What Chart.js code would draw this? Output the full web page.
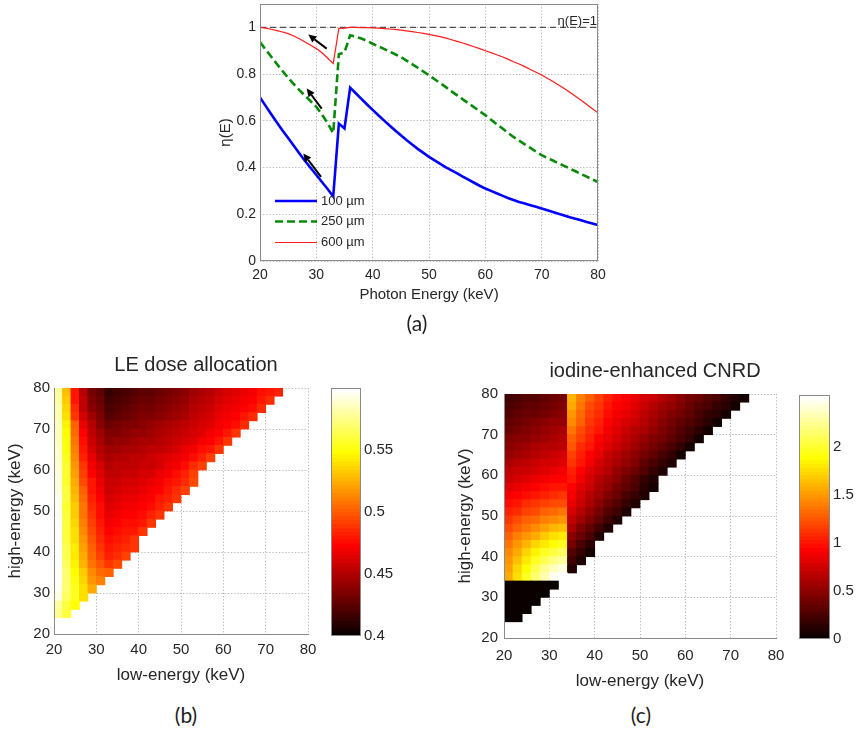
<!DOCTYPE html>
<html>
<head>
<meta charset="utf-8">
<script src="https://cdn.jsdelivr.net/npm/chart.js@4.4.1/dist/chart.umd.min.js"></script>
<style>
html, body { margin: 0; padding: 0; background: #fff; }
#fig { position: relative; width: 859px; height: 733px; overflow: hidden; background: #fff; }
#fig canvas { position: absolute; }
.cap { position: absolute; font-family: Lato, 'Open Sans', sans-serif; font-size: 21px; color: #1e1e1e;
       transform: translate(-50%, -50%); line-height: 1; white-space: nowrap; }
</style>
</head>
<body>
<div id="fig">
  <canvas id="eff" width="420" height="322" style="left:200px;top:-12px"></canvas>
  <canvas id="dose" width="392" height="345" style="left:0px;top:345px"></canvas>
  <canvas id="doseBar" width="80" height="275" style="left:325px;top:375px"></canvas>
  <canvas id="cnrd" width="400" height="345" style="left:455px;top:350px"></canvas>
  <canvas id="cnrdBar" width="69" height="275" style="left:790px;top:380px"></canvas>
  <div class="cap" style="left:417px;top:322px">(a)</div>
  <div class="cap" style="left:186px;top:714px">(b)</div>
  <div class="cap" style="left:641px;top:714px">(c)</div>
</div>
<script>
// ---------------- (a) detection efficiency vs photon energy ----------------
const energyKeV = [20,21,22,23,24,25,26,27,28,29,30,31,32,33,34,35,36,37,38,39,40,
  41,42,43,44,45,46,47,48,49,50,51,52,53,54,55,56,57,58,59,60,
  61,62,63,64,65,66,67,68,69,70,71,72,73,74,75,76,77,78,79,80];

const eta100um = [0.70,0.664,0.628,0.593,0.559,0.526,0.493,0.46,0.428,0.398,0.368,0.338,0.308,0.276,
  0.588,0.567,0.742,0.718,0.694,0.67,0.647,0.624,0.602,0.58,0.559,0.538,0.518,0.499,0.48,0.463,0.446,
  0.431,0.416,0.401,0.388,0.375,0.361,0.348,0.335,0.322,0.31,0.30,0.29,0.28,0.27,0.261,0.253,0.246,
  0.239,0.232,0.225,0.217,0.21,0.202,0.195,0.187,0.181,0.174,0.167,0.161,0.154];

const eta250um = [0.937,0.905,0.874,0.843,0.813,0.784,0.757,0.731,0.707,0.684,0.66,0.627,0.59,0.548,
  0.885,0.893,0.966,0.96,0.952,0.942,0.93,0.919,0.908,0.896,0.885,0.873,0.858,0.843,0.827,0.811,0.795,
  0.778,0.761,0.744,0.726,0.709,0.692,0.675,0.658,0.641,0.624,0.605,0.586,0.568,0.549,0.531,0.515,0.499,
  0.484,0.468,0.453,0.441,0.43,0.418,0.407,0.396,0.384,0.372,0.361,0.349,0.338];

const eta600um = [1.0,0.997,0.992,0.986,0.98,0.973,0.963,0.951,0.937,0.923,0.909,0.891,0.869,0.845,
  0.996,0.997,1.0,1.0,0.999,0.999,0.998,0.997,0.995,0.993,0.991,0.988,0.985,0.982,0.978,0.974,0.97,
  0.965,0.96,0.954,0.947,0.94,0.933,0.925,0.917,0.909,0.9,0.892,0.883,0.874,0.864,0.853,0.843,0.832,
  0.82,0.808,0.796,0.782,0.768,0.753,0.738,0.722,0.705,0.688,0.67,0.652,0.634];

const unityLevel = [1, 1];            // eta(E) = 1 reference, drawn across the energy range
const thicknessLabels = ['100 \u00b5m', '250 \u00b5m', '600 \u00b5m'];

// arrows pointing toward thicker-detector behaviour below the iodine K-edge (data units)
const arrowMarks = [
  { from: [31.84, 0.909], to: [28.57, 0.969] },
  { from: [30.95, 0.652], to: [28.29, 0.738] },
  { from: [30.83, 0.360], to: [27.69, 0.460] }
];

// ---------------- (b), (c) dual-energy maps on a 2 keV grid ----------------
const leCenters = [21,23,25,27,29,31,33,35,37,39,41,43,45,47,49,51,53,55,57,59,61,63,65,67,69,71,73];
const heCenters = [79,77,75,73,71,69,67,65,63,61,59,57,55,53,51,49,47,45,43,41,39,37,35,33,31,29,27,25];

// fraction of dose given to the low-energy image, one row per high-energy bin (top row first)
const leDoseFraction = [
  [.578,.53,.478,.45,.434,.426,.413,.418,.42,.423,.426,.428,.431,.434,.437,.44,.444,.448,.452,.457,.461,.464,.467,.471,.475,.479,.484],
  [.58,.532,.481,.453,.437,.429,.416,.421,.423,.426,.429,.431,.434,.437,.44,.443,.447,.451,.455,.46,.464,.467,.47,.474,.478,.486],
  [.581,.535,.485,.456,.44,.432,.42,.424,.426,.429,.432,.434,.437,.44,.443,.446,.45,.454,.458,.463,.467,.47,.473,.477,.487],
  [.583,.538,.49,.46,.444,.436,.424,.428,.43,.432,.435,.437,.44,.443,.446,.449,.453,.457,.461,.466,.47,.474,.478,.487],
  [.585,.545,.5,.468,.45,.44,.43,.433,.435,.437,.439,.441,.444,.447,.45,.453,.457,.461,.465,.469,.473,.477,.487],
  [.586,.548,.505,.472,.454,.444,.435,.437,.439,.441,.443,.445,.448,.451,.454,.457,.461,.465,.469,.473,.478,.488],
  [.587,.55,.508,.476,.458,.448,.44,.442,.443,.445,.447,.449,.452,.455,.458,.461,.465,.469,.474,.479,.489],
  [.588,.552,.512,.48,.462,.452,.444,.446,.447,.449,.451,.453,.456,.459,.462,.466,.47,.475,.48,.49],
  [.589,.554,.515,.484,.466,.456,.448,.45,.451,.453,.455,.457,.46,.463,.467,.471,.476,.484,.492],
  [.59,.556,.518,.488,.47,.46,.451,.453,.454,.455,.457,.459,.462,.466,.471,.477,.485,.493],
  [.591,.557,.521,.492,.474,.463,.454,.456,.457,.458,.46,.462,.466,.47,.476,.483,.492],
  [.592,.558,.524,.496,.478,.467,.457,.459,.46,.461,.463,.466,.47,.475,.48,.487,.494],
  [.593,.559,.527,.5,.481,.47,.459,.462,.463,.465,.467,.47,.474,.479,.485,.491],
  [.594,.56,.53,.503,.484,.473,.461,.465,.466,.468,.47,.474,.478,.484,.49],
  [.595,.558,.532,.506,.487,.475,.463,.467,.469,.471,.473,.477,.482,.489],
  [.596,.559,.534,.509,.49,.477,.466,.47,.472,.474,.477,.482,.489],
  [.597,.56,.536,.512,.493,.48,.469,.473,.475,.477,.481,.488],
  [.597,.561,.538,.515,.496,.483,.472,.476,.478,.481,.488],
  [.598,.562,.54,.518,.499,.486,.476,.479,.482,.488],
  [.599,.563,.541,.52,.502,.489,.48,.482,.485,.49],
  [.599,.565,.543,.523,.505,.492,.484,.486,.492],
  [.599,.567,.546,.527,.509,.497,.489,.495],
  [.599,.569,.549,.532,.514,.503,.5],
  [.598,.571,.552,.536,.518,.51],
  [.596,.571,.554,.538,.522],
  [.593,.568,.553,.538],
  [.58,.562,.548],
  [.575,.56]
];

// iodine-enhanced CNRD, same grid
const iodineCNRD = [
  [.2,.24,.28,.31,.35,.39,.42,1.6,1.42,1.27,1.16,1.07,.99,.93,.86,.79,.72,.64,.56,.49,.42,.36,.3,.24,.18,.11,.05],
  [.24,.28,.32,.35,.39,.43,.46,1.55,1.38,1.23,1.12,1.03,.95,.88,.81,.74,.67,.59,.52,.45,.38,.31,.25,.18,.12,.06],
  [.28,.32,.36,.39,.43,.47,.5,1.49,1.33,1.19,1.08,.99,.91,.84,.77,.69,.62,.55,.47,.4,.33,.26,.19,.13,.06],
  [.33,.37,.41,.44,.48,.52,.55,1.43,1.28,1.15,1.04,.95,.87,.79,.72,.64,.57,.5,.42,.35,.28,.2,.13,.06],
  [.38,.42,.46,.49,.53,.57,.6,1.37,1.23,1.11,1.0,.91,.83,.75,.67,.6,.52,.45,.37,.3,.22,.15,.07],
  [.44,.48,.51,.55,.58,.62,.65,1.3,1.17,1.05,.95,.86,.78,.7,.62,.55,.47,.4,.32,.24,.16,.07],
  [.49,.53,.57,.6,.64,.67,.7,1.24,1.11,1.0,.9,.81,.73,.65,.57,.49,.41,.33,.25,.16,.07],
  [.55,.59,.62,.66,.69,.73,.76,1.18,1.05,.94,.84,.75,.67,.58,.5,.42,.34,.25,.16,.07],
  [.61,.65,.69,.72,.76,.79,.82,1.12,1.0,.89,.79,.7,.61,.52,.44,.35,.26,.17,.08],
  [.68,.72,.75,.79,.82,.85,.88,1.06,.94,.83,.73,.64,.55,.46,.37,.28,.18,.08],
  [.75,.79,.83,.86,.89,.93,.95,1.0,.88,.77,.67,.57,.48,.39,.29,.19,.09],
  [.82,.86,.9,.94,.97,1.0,1.03,.95,.83,.72,.62,.52,.43,.34,.25,.15,.06],
  [.9,.95,.99,1.03,1.06,1.09,1.12,.9,.78,.67,.57,.47,.37,.27,.17,.08],
  [.97,1.03,1.08,1.12,1.16,1.2,1.23,.85,.72,.61,.5,.39,.29,.19,.08],
  [1.04,1.11,1.17,1.23,1.28,1.33,1.36,.78,.65,.53,.42,.31,.2,.09],
  [1.12,1.2,1.27,1.34,1.4,1.46,1.5,.7,.57,.45,.33,.21,.09],
  [1.2,1.29,1.38,1.46,1.53,1.6,1.65,.6,.47,.35,.23,.1],
  [1.28,1.39,1.49,1.58,1.67,1.75,1.8,.5,.37,.24,.11],
  [1.36,1.48,1.6,1.71,1.81,1.9,1.96,.4,.27,.12],
  [1.43,1.57,1.71,1.84,1.96,2.06,2.13,.3,.18,.06],
  [1.49,1.65,1.81,1.96,2.1,2.22,2.3,.2,.08],
  [1.54,1.72,1.9,2.07,2.23,2.37,2.45,.1],
  [1.58,1.77,1.97,2.16,2.33,2.47,2.54],
  [0,0,0,0,0,0],
  [0,0,0,0,0],
  [0,0,0,0],
  [0,0,0],
  [0,0]
];

const doseRange = [0.4, 0.5995];
const cnrdRange = [0, 2.54];

// ---------------- shared styling ----------------
const FONT = "'Liberation Sans', Arial, Helvetica, sans-serif";
const INK = '#262626';
const GRID = '#b4b4b4';
const AXIS = '#8a8a8a';
const DOT = [1.2, 2];
const fmt = v => String(Math.round(v * 1000) / 1000);

// 64-level "hot" colour map (black - red - yellow - white)
function hotIndex(i) {
  const n = Math.max(0, Math.min(63, i)) + 1;
  const r = Math.min(1, n / 24);
  const g = Math.min(1, Math.max(0, (n - 24) / 24));
  const b = Math.min(1, Math.max(0, (n - 48) / 16));
  return `rgb(${Math.round(r * 255)},${Math.round(g * 255)},${Math.round(b * 255)})`;
}
function hotColor(v, range) {
  return hotIndex(Math.floor((v - range[0]) / (range[1] - range[0]) * 64));
}

const framePlugin = {
  id: 'frame',
  afterDraw(chart) {
    const a = chart.chartArea, ctx = chart.ctx;
    ctx.save();
    ctx.strokeStyle = AXIS;
    ctx.lineWidth = 1;
    ctx.strokeRect(Math.round(a.left) + 0.5, Math.round(a.top) + 0.5,
                   Math.round(a.right - a.left) - 1, Math.round(a.bottom - a.top) - 1);
    ctx.restore();
  }
};

// ---------------- chart (a) ----------------
const toPoints = ys => energyKeV.map((e, i) => ({ x: e, y: ys[i] }));

const effDecorations = {
  id: 'effDecorations',
  afterDatasetsDraw(chart) {
    const { ctx, scales: { x, y } } = chart;
    ctx.save();
    ctx.strokeStyle = '#000';
    ctx.fillStyle = '#000';
    ctx.lineWidth = 2;
    arrowMarks.forEach(m => {
      const x0 = x.getPixelForValue(m.from[0]), y0 = y.getPixelForValue(m.from[1]);
      const x1 = x.getPixelForValue(m.to[0]), y1 = y.getPixelForValue(m.to[1]);
      const ang = Math.atan2(y1 - y0, x1 - x0), hl = 8, hw = 3.8;
      const bx = x1 - hl * Math.cos(ang), by = y1 - hl * Math.sin(ang);
      ctx.beginPath(); ctx.moveTo(x0, y0); ctx.lineTo(bx, by); ctx.stroke();
      ctx.beginPath();
      ctx.moveTo(x1, y1);
      ctx.lineTo(bx + hw * Math.sin(ang), by - hw * Math.cos(ang));
      ctx.lineTo(bx - hw * Math.sin(ang), by + hw * Math.cos(ang));
      ctx.closePath(); ctx.fill();
    });
    ctx.restore();
  },
  afterDraw(chart) {
    const { ctx, chartArea: a, scales: { y } } = chart;
    ctx.save();
    // reference-line label
    ctx.font = `13px ${FONT}`;
    ctx.fillStyle = INK;
    ctx.textAlign = 'right';
    ctx.textBaseline = 'middle';
    ctx.fillText('\u03b7(E)=1', a.right - 1, y.getPixelForValue(1) - 6);
    // legend in the lower-left corner of the axes
    const rows = [a.bottom - 60, a.bottom - 39.5, a.bottom - 18.5];
    ctx.textAlign = 'left';
    for (let i = 0; i < 3; i++) {
      const ds = chart.data.datasets[i];
      ctx.strokeStyle = ds.borderColor;
      ctx.lineWidth = ds.borderWidth;
      ctx.setLineDash(ds.borderDash || []);
      ctx.beginPath();
      ctx.moveTo(a.left + 15, rows[i]);
      ctx.lineTo(a.left + 57, rows[i]);
      ctx.stroke();
      ctx.setLineDash([]);
      ctx.fillStyle = INK;
      ctx.fillText(ds.label, a.left + 61, rows[i]);
    }
    ctx.restore();
  }
};

new Chart(document.getElementById('eff'), {
  type: 'line',
  data: {
    datasets: [
      { label: thicknessLabels[0], data: toPoints(eta100um), borderColor: '#0000ff', borderWidth: 2.6, order: 0 },
      { label: thicknessLabels[1], data: toPoints(eta250um), borderColor: '#088a08', borderWidth: 2.6, borderDash: [8, 4], order: 1 },
      { label: thicknessLabels[2], data: toPoints(eta600um), borderColor: '#ff1a1a', borderWidth: 1.2, order: 2 },
      { label: 'unity', data: [{ x: 20, y: unityLevel[0] }, { x: 80, y: unityLevel[1] }],
        borderColor: '#505050', borderWidth: 1.3, borderDash: [6, 4], order: 3 }
    ]
  },
  options: {
    responsive: false, animation: false, events: [],
    elements: { point: { radius: 0 }, line: { tension: 0, fill: false } },
    layout: { padding: 0 },
    plugins: { legend: { display: false }, tooltip: { enabled: false } },
    scales: {
      x: {
        type: 'linear', position: 'bottom', min: 20, max: 80,
        ticks: { stepSize: 10, color: INK, font: { family: FONT, size: 14 }, padding: 5.5, maxRotation: 0 },
        grid: { color: GRID, drawTicks: false },
        border: { display: false, dash: DOT },
        title: { display: true, text: 'Photon Energy (keV)', color: INK, font: { family: FONT, size: 15 }, padding: { top: 0, bottom: 6 } },
        afterFit: s => { s.height = 49; }
      },
      y: {
        type: 'linear', position: 'left', min: 0, max: 1.1,
        ticks: { stepSize: 0.2, includeBounds: false, color: INK, font: { family: FONT, size: 14 }, padding: 4, callback: fmt },
        grid: { color: GRID, drawTicks: false },
        border: { display: false, dash: DOT },
        title: { display: true, text: '\u03b7(E)', color: INK, font: { family: FONT, size: 15 }, padding: { top: 17, bottom: 0 } },
        afterFit: s => { s.width = 60; }
      },
      xTop: {
        type: 'linear', position: 'top', ticks: { display: false }, grid: { display: false, drawTicks: false }, border: { display: false },
        afterFit: s => { s.height = 16; }
      },
      yRight: {
        type: 'linear', position: 'right', ticks: { display: false }, grid: { display: false, drawTicks: false }, border: { display: false },
        afterFit: s => { s.width = 22; }
      }
    }
  },
  plugins: [effDecorations, framePlugin]
});

// ---------------- heat maps (b), (c) ----------------
function gridCells(rows) {
  const out = [];
  rows.forEach((row, r) => row.forEach((v, j) => {
    out.push({ x: leCenters[j], y: [heCenters[r] - 1, heCenters[r] + 1], v });
  }));
  return out;
}

function makeHeatmap(id, rows, range, titleText, g) {
  const tickFont = { family: FONT, size: 15 };
  const labelFont = { family: FONT, size: 17 };
  return new Chart(document.getElementById(id), {
    type: 'bar',
    data: {
      datasets: [{
        data: gridCells(rows),
        backgroundColor: c => (c.raw ? hotColor(c.raw.v, range) : '#000'),
        borderWidth: 0, barPercentage: 1, categoryPercentage: 1, inflateAmount: 0.4
      }]
    },
    options: {
      responsive: false, animation: false, events: [],
      layout: { padding: 0 },
      plugins: {
        legend: { display: false }, tooltip: { enabled: false },
        title: { display: true, text: titleText, color: INK, font: { family: FONT, size: 20, weight: 'normal' },
                 padding: { top: g.titleTop, bottom: g.titleBottom } }
      },
      scales: {
        x: {
          type: 'linear', position: 'bottom', min: 20, max: 80, offset: false,
          ticks: { stepSize: 10, color: INK, font: tickFont, padding: g.xTickPad, maxRotation: 0 },
          grid: { color: GRID, drawTicks: false, offset: false },
          border: { display: true, color: AXIS, dash: DOT, z: 1 },
          title: { display: true, text: 'low-energy (keV)', color: INK, font: labelFont, padding: { top: 0, bottom: g.xTitlePad } },
          afterFit: s => { s.height = g.xHeight; }
        },
        y: {
          type: 'linear', position: 'left', min: 20, max: 80,
          ticks: { stepSize: 10, color: INK, font: tickFont, padding: g.yTickPad },
          grid: { color: GRID, drawTicks: false },
          border: { display: true, color: AXIS, dash: DOT, z: 1 },
          title: { display: true, text: 'high-energy (keV)', color: INK, font: labelFont, padding: { top: g.yTitlePad, bottom: 0 } },
          afterFit: s => { s.width = g.yWidth; }
        },
        yRight: {
          type: 'linear', position: 'right', ticks: { display: false }, grid: { display: false, drawTicks: false }, border: { display: false },
          afterFit: s => { s.width = g.rightWidth; }
        }
      }
    }
  });
}

function makeColorbar(id, range, step, lastTick, g) {
  const levels = [];
  const d = (range[1] - range[0]) / 64;
  for (let i = 0; i < 64; i++) levels.push({ x: 0.5, y: [range[0] + i * d, range[0] + (i + 1) * d], i });
  return new Chart(document.getElementById(id), {
    type: 'bar',
    data: { datasets: [{ data: levels, backgroundColor: c => hotIndex(c.raw ? c.raw.i : 0),
                         borderWidth: 0, barPercentage: 1, categoryPercentage: 1, inflateAmount: 0.4 }] },
    options: {
      responsive: false, animation: false, events: [],
      layout: { padding: { left: g.left, right: 0, top: 0, bottom: 0 } },
      plugins: { legend: { display: false }, tooltip: { enabled: false } },
      scales: {
        x: {
          type: 'linear', position: 'bottom', min: 0, max: 1, offset: false,
          ticks: { display: false, stepSize: 1 }, grid: { display: false, drawTicks: false, offset: false }, border: { display: false },
          afterFit: s => { s.height = g.bottom; }
        },
        xTop: {
          type: 'linear', position: 'top', ticks: { display: false }, grid: { display: false, drawTicks: false }, border: { display: false },
          afterFit: s => { s.height = g.top; }
        },
        y: {
          type: 'linear', position: 'right', min: range[0], max: range[1],
          ticks: { stepSize: step, includeBounds: false, color: INK, font: { family: FONT, size: 15 }, padding: 3, callback: fmt },
          grid: { display: false, drawTicks: false }, border: { display: false },
          afterBuildTicks: s => { s.ticks = s.ticks.filter(t => t.value <= lastTick + 1e-9); },
          afterFit: s => { s.width = g.right; }
        }
      }
    },
    plugins: [framePlugin]
  });
}

makeHeatmap('dose', leDoseFraction, doseRange, 'LE dose allocation', {
  titleTop: 8.5, titleBottom: 10.5, xTickPad: 7, xTitlePad: 4.8, xHeight: 56,
  yTickPad: 4, yTitlePad: 4.8, yWidth: 54, rightWidth: 84
});
makeHeatmap('cnrd', iodineCNRD, cnrdRange, 'iodine-enhanced CNRD', {
  titleTop: 9.5, titleBottom: 10.5, xTickPad: 9, xTitlePad: 3.8, xHeight: 57,
  yTickPad: 6, yTitlePad: 0, yWidth: 49, rightWidth: 79
});
makeColorbar('doseBar', doseRange, 0.05, 0.55, { left: 6, top: 13, bottom: 14, right: 44 });
makeColorbar('cnrdBar', cnrdRange, 0.5, 2, { left: 9, top: 15, bottom: 16, right: 29 });
</script>
</body>
</html>
